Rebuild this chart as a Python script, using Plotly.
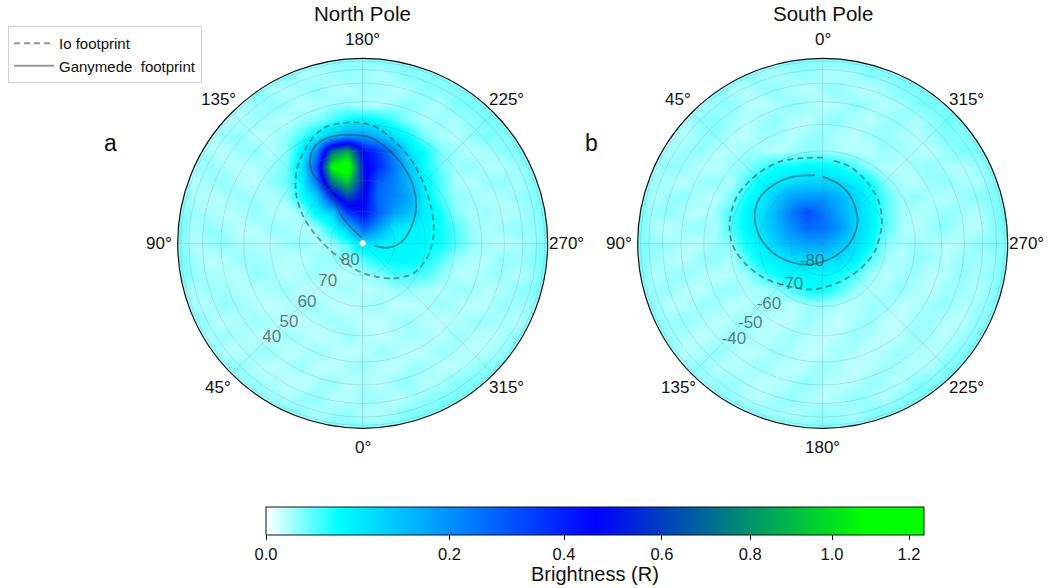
import numpy as np
import plotly.graph_objects as go

# ---------- data ----------
# brightness grids, in milli-Rayleigh (top row first, 25 x 25 cells over the disc)
north_brightness_mR = [
 [20,20,20,20,20,20,20,20,20,18,20,18,18,20,22,18,20,20,20,20,20,20,20,20,20],
 [20,20,20,20,20,20,18,22,11,9,13,16,13,10,14,20,18,20,20,20,20,20,20,20,20],
 [20,20,20,20,18,22,11,9,13,17,10,9,14,13,9,11,17,18,18,20,20,20,20,20,20],
 [20,20,20,20,10,13,17,14,9,10,14,16,10,9,14,18,13,10,20,22,20,20,20,20,20],
 [20,20,20,10,9,14,11,8,14,18,32,50,60,50,32,16,10,14,11,16,20,20,20,20,20],
 [20,20,9,14,16,8,10,16,32,60,120,180,180,140,80,50,20,11,9,16,20,18,20,20,20],
 [20,20,10,8,13,16,9,18,60,200,700,850,450,350,200,80,50,20,14,9,11,17,20,20,20],
 [20,11,16,11,8,10,14,22,80,300,1100,1240,500,380,240,120,50,25,13,16,10,9,14,20,20],
 [20,9,13,16,10,8,16,24,60,230,750,950,520,290,220,140,60,32,11,9,14,16,11,18,20],
 [22,10,8,11,14,13,9,16,50,100,380,620,480,260,220,160,70,32,16,13,9,11,14,18,20],
 [20,14,11,8,10,16,11,8,14,60,100,340,450,280,170,130,70,50,18,11,14,9,10,16,22],
 [24,11,16,13,8,9,14,13,9,14,50,120,280,180,80,70,60,50,32,14,10,13,16,14,24],
 [20,9,13,16,11,10,8,13,16,10,14,32,80,70,60,60,60,50,32,16,11,8,11,14,22],
 [24,13,8,10,14,13,11,9,8,13,16,14,32,50,60,60,50,32,14,11,9,16,13,18,24],
 [22,16,11,9,8,16,13,8,11,14,9,8,13,18,32,32,32,16,10,8,13,14,9,14,26],
 [20,10,14,13,9,8,11,14,9,7,10,13,8,9,13,16,11,9,13,14,8,10,16,18,20],
 [20,11,9,16,13,10,7,9,13,14,8,7,11,14,8,7,10,14,11,8,9,14,13,14,20],
 [20,18,13,8,10,14,11,8,7,10,13,11,8,7,11,14,9,7,9,13,14,11,8,18,20],
 [20,20,10,14,11,8,9,13,11,7,8,14,10,7,9,13,11,8,14,10,8,10,18,20,20],
 [20,20,18,9,8,13,14,8,9,13,10,7,9,14,11,7,8,14,11,7,9,14,20,20,20],
 [20,20,20,16,16,9,7,10,14,8,7,11,14,9,7,13,14,9,7,13,18,20,20,20,20],
 [20,20,20,20,12,14,11,8,7,11,14,9,11,8,14,16,8,10,18,20,20,20,20,20,20],
 [20,20,20,20,20,16,14,10,13,16,9,8,14,13,8,10,14,20,20,20,20,20,20,20,20],
 [20,20,20,20,20,20,20,20,14,10,13,16,10,9,14,20,20,20,20,20,20,20,20,20,20],
 [20,20,20,20,20,20,20,20,20,18,20,18,18,20,18,20,20,20,20,20,20,20,20,20,20],
]
south_brightness_mR = [
 [20,20,20,20,20,20,20,20,20,18,22,18,18,20,22,18,20,20,20,20,20,20,20,20,20],
 [20,20,20,20,20,20,18,20,13,10,14,16,11,9,13,20,18,20,20,20,20,20,20,20,20],
 [20,20,20,20,18,20,11,9,14,16,10,8,13,16,10,8,13,20,20,20,20,20,20,20,20],
 [20,20,20,20,11,14,17,10,8,11,16,13,8,10,16,13,9,11,20,22,20,20,20,20,20],
 [20,20,20,10,16,18,14,9,13,16,10,8,14,17,11,8,13,16,10,16,22,20,20,20,20],
 [20,20,11,9,14,17,10,8,14,13,9,14,16,10,8,13,16,11,9,14,20,18,20,20,20],
 [20,18,10,13,16,10,9,14,11,8,13,17,14,11,9,8,14,13,10,8,14,20,20,20,20],
 [20,11,16,14,9,8,14,17,32,50,50,60,60,50,32,17,10,8,13,16,11,9,14,20,20],
 [22,13,10,8,13,16,10,32,60,70,90,100,100,90,70,50,18,11,8,14,16,11,10,18,20],
 [22,9,14,16,11,8,18,50,70,120,170,190,190,150,100,60,32,13,16,10,9,14,17,18,22],
 [20,14,16,10,8,13,32,60,90,150,240,310,250,170,110,70,32,14,9,11,16,13,9,18,24],
 [24,10,8,13,16,10,32,60,90,140,210,260,250,200,110,70,32,13,8,14,17,10,8,16,24],
 [20,16,13,9,8,14,18,50,70,110,150,170,170,130,90,60,18,11,14,11,8,9,16,18,20],
 [22,14,10,8,14,16,10,32,60,70,90,100,100,90,70,32,14,9,16,13,9,14,13,14,22],
 [24,9,13,16,11,8,9,14,32,50,60,60,60,50,32,14,8,13,14,8,10,16,11,16,24],
 [20,13,14,9,8,13,16,10,11,17,32,50,50,32,14,9,11,16,10,8,14,13,10,16,24],
 [20,16,8,9,14,13,8,9,14,13,8,14,16,10,8,13,14,8,9,13,16,10,13,18,20],
 [20,18,13,16,11,8,10,14,11,7,9,14,10,7,11,14,8,7,13,14,9,8,16,18,20],
 [20,20,14,11,8,9,14,13,8,9,13,10,7,9,14,11,7,9,14,11,8,13,20,20,20],
 [20,20,18,8,10,16,11,7,9,14,11,7,8,13,10,7,10,14,10,8,13,20,20,20,20],
 [20,20,20,16,16,10,8,10,14,10,7,9,14,11,7,9,13,11,8,11,20,20,20,20,20],
 [20,20,20,20,12,13,14,11,8,8,11,16,11,8,9,14,13,8,18,20,20,20,20,20,20],
 [20,20,20,20,20,18,16,10,8,13,16,10,8,11,16,13,9,18,20,20,20,20,20,20,20],
 [20,20,20,20,20,20,20,18,16,13,10,13,16,13,10,18,20,20,20,20,20,20,20,20,20],
 [20,20,20,20,20,20,20,20,20,18,20,18,18,20,18,20,20,20,20,20,20,20,20,20,20],
]

north_io_lon = [174,185.2,196.5,209.1,225.3,244.2,264.6,283.2,300.6,318.8,341.9,5.4,56.5,94.5,114.2,126.9,138,149.9,161.1,174]
north_io_lat = [48.9,50.4,54.4,58.3,62.5,65.5,67.4,69.2,71.4,75.4,79.3,81.1,81.5,76.6,69.4,63.2,57.8,52.8,48.9,48.9]
north_gan_lon = [170,142.8,142.9,147.8,146,144.2,146.6,152.6,161.1,171.6,184,194.2,208,221.8,235.5,251.2,267.6,279.6,281.6]
north_gan_lat = [88.2,83.5,78.3,72.7,67.6,62.9,58.9,54.6,53.1,53.7,55,58,62,65.7,69.5,73.8,77.8,81.9,86.4]
south_io_lon = [352.2,340.4,322.7,305.2,288.7,261.7,235.5,199.3,164.6,122.7,104.4,92.1,78.9,61.5,42.6,27.6,14.9,0]
south_io_lat = [-63.3,-63.9,-66,-68,-70.3,-73.4,-75.8,-76.8,-75,-68.9,-64.3,-61.1,-59.1,-58.1,-59.1,-60.1,-61.6,-62.4]
south_gan_lon = [6.4,23.7,40.2,56,71,86.9,106.7,132.4,163.3,230.2,276.6,303.7,327.2,343.4,360]
south_gan_lat = [-68.2,-66.8,-65.6,-65.2,-67.2,-70.7,-75.5,-80.4,-83.5,-84.3,-80.9,-76.9,-73.2,-70.8,-68.9]

lat_grid = [80,70,60,50,40,30,20,10]
north_lat_labels = [80,70,60,50,40]
south_lat_labels = [-80,-70,-60,-50,-40]
north_lon_ticks = [0,45,90,135,180,225,270,315]
south_lon_ticks = [0,45,90,135,180,225,270,315]
cbar_ticks = [0.0,0.2,0.4,0.6,0.8,1.0,1.2]
cbar_max = 1.24
gamma = 0.7

# ---------- styling / layout ----------
W, H = 1051, 588
MB = 75                # bottom margin, large enough that the colour bar does not push the plot area
PH = H - MB            # height of the plot area
FONT = "Liberation Sans, Arial, sans-serif"
INK = "#111111"
R = 185
AX = 1.06              # half-range of the image axes, a little wider than the disc and the image
CN, CS, CY = (362.7, 243.3), (822.7, 243.3), 243.3
LINE = "rgba(55,60,60,0.52)"
GRID = "rgba(110,120,120,0.22)"
LABEL = "rgba(70,70,70,0.72)"
n_label_theta = [36,42,43,43,44]
s_label_theta = [150,142.8,138.8,137.9,137.3]
label_inset = 0.059
TICK_R = 1.103

def py(pix):
    return 1 - pix / PH

def norm(z):
    return (np.asarray(z, float) / cbar_max) ** gamma

def colat_r(lat):
    return np.cos(np.radians(np.abs(np.asarray(lat, float))))

def dom(cx, half=R):
    return dict(x=[(cx - half) / W, (cx + half) / W], y=[py(CY + half), py(CY - half)])

colorscale = [[0, "#ffffff"], [0.11, "#00ffff"], [0.5, "#0000ff"], [0.91, "#00ff00"], [1, "#00ff00"]]
grid_axis = np.linspace(-1, 1, 25)
t = np.linspace(2 * np.pi, 0, 361)
mask_x = [1.1, 1.1, -1.1, -1.1, 1.1, 1.1] + list(np.cos(t))
mask_y = [0, 1.1, 1.1, -1.1, -1.1, 0] + list(np.sin(t))

fig = go.Figure()
for grid, xa, ya in [(north_brightness_mR, "x", "y"), (south_brightness_mR, "x2", "y2")]:
    fig.add_trace(go.Heatmap(x=grid_axis, y=grid_axis, z=norm(np.array(grid) / 1000.0), zsmooth="best",
                             coloraxis="coloraxis", xaxis=xa, yaxis=ya, hoverinfo="skip"))
    fig.add_trace(go.Scatter(x=mask_x, y=mask_y, xaxis=xa, yaxis=ya, mode="lines", fill="toself",
                             fillcolor="white", line=dict(width=0), showlegend=False, hoverinfo="skip"))

def foot(lon, lat, sp, dash, name, legend):
    fig.add_trace(go.Scatterpolar(r=colat_r(lat), theta=lon, subplot=sp, mode="lines", name=name,
                                  line=dict(color=LINE, width=1.8, dash=dash, shape="spline", smoothing=0.9),
                                  showlegend=legend, hoverinfo="skip"))

foot(north_io_lon, north_io_lat, "polar", "6px,4px", "Io footprint", True)
foot(north_gan_lon, north_gan_lat, "polar", "solid", "Ganymede  footprint", True)
foot(south_io_lon, south_io_lat, "polar2", "6px,4px", "Io", False)
foot(south_gan_lon, south_gan_lat, "polar2", "solid", "Ganymede", False)

fig.add_trace(go.Scatterpolar(r=[0], theta=[0], subplot="polar", mode="markers", showlegend=False, hoverinfo="skip",
                              marker=dict(color="white", size=6, line=dict(color="#cccccc", width=1))))

for labels, th, sp in [(north_lat_labels, n_label_theta, "polar"), (south_lat_labels, s_label_theta, "polar2")]:
    fig.add_trace(go.Scatterpolar(r=colat_r(labels) - label_inset, theta=th, subplot=sp, mode="text",
                                  text=[str(v) for v in labels], textposition="middle center",
                                  textfont=dict(family=FONT, size=17, color=LABEL),
                                  showlegend=False, hoverinfo="skip"))

def polar(rotation, direction, ticks):
    return dict(
        bgcolor="rgba(0,0,0,0)",
        radialaxis=dict(range=[0, 1], tickmode="array", tickvals=list(colat_r(lat_grid)), showticklabels=False,
                        ticks="", showline=False, gridcolor=GRID, gridwidth=1),
        angularaxis=dict(rotation=rotation, direction=direction, tickmode="array", tickvals=ticks,
                         showticklabels=False, ticks="", showline=True, linecolor=INK,
                         linewidth=1.2, gridcolor=GRID, gridwidth=1),
    )

def note(text, px, pyy, size):
    return dict(text=text, x=px / W, y=py(pyy), xref="paper", yref="paper", xanchor="center", yanchor="middle",
                showarrow=False, font=dict(size=size, family=FONT, color=INK))

annotations = [note("North Pole", CN[0], 13, 20.5), note("South Pole", CS[0], 13, 20.5),
               note("a", 110, 143, 23), note("b", 591, 143, 23),
               note("Brightness (R)", 595, 574, 20)]
# longitude labels around each disc: 0 at the bottom going clockwise (north), 0 at the top going anticlockwise (south)
for v in north_lon_ticks:
    a = np.radians(v)
    annotations.append(note(f"{v}°", CN[0] - TICK_R * R * np.sin(a), CY + TICK_R * R * np.cos(a), 17))
for v in south_lon_ticks:
    a = np.radians(v)
    annotations.append(note(f"{v}°", CS[0] - TICK_R * R * np.sin(a), CY - TICK_R * R * np.cos(a), 17))

dn, ds = dom(CN[0]), dom(CS[0])
an, az = dom(CN[0], AX * R), dom(CS[0], AX * R)
hidden = dict(visible=False, range=[-AX, AX], fixedrange=True)
fig.update_layout(
    width=W, height=H, margin=dict(l=0, r=0, t=0, b=MB), paper_bgcolor="white", plot_bgcolor="rgba(0,0,0,0)",
    font=dict(family=FONT, color=INK),
    polar={**polar(-90, "clockwise", north_lon_ticks), "domain": dn},
    polar2={**polar(90, "counterclockwise", south_lon_ticks), "domain": ds},
    xaxis=dict(hidden, domain=an["x"]), yaxis=dict(hidden, domain=an["y"], range=[AX, -AX]),
    xaxis2=dict(hidden, domain=az["x"]), yaxis2=dict(hidden, domain=az["y"], range=[AX, -AX]),
    coloraxis=dict(
        colorscale=colorscale, cmin=0, cmax=1,
        colorbar=dict(orientation="h", lenmode="pixels", len=658, thicknessmode="pixels", thickness=28,
                      x=595 / W, xanchor="center", y=py(507), yanchor="top", ypad=0, xpad=0,
                      tickmode="array", tickvals=list(norm(cbar_ticks)), ticktext=[f"{v:.1f}" for v in cbar_ticks],
                      ticks="outside", ticklen=5, tickcolor=INK, tickfont=dict(family=FONT, size=16.5, color=INK),
                      outlinewidth=1, outlinecolor=INK)),
    legend=dict(x=8 / W, y=py(26), xanchor="left", yanchor="top", bgcolor="white", bordercolor="#d0d0d0",
                borderwidth=1, font=dict(family=FONT, size=15, color=INK), itemwidth=40, tracegroupgap=0),
    annotations=annotations,
)
fig.write_html("out.html", config={"displayModeBar": False},
               post_script="document.body.style.margin='0';document.body.style.overflow='hidden';")
